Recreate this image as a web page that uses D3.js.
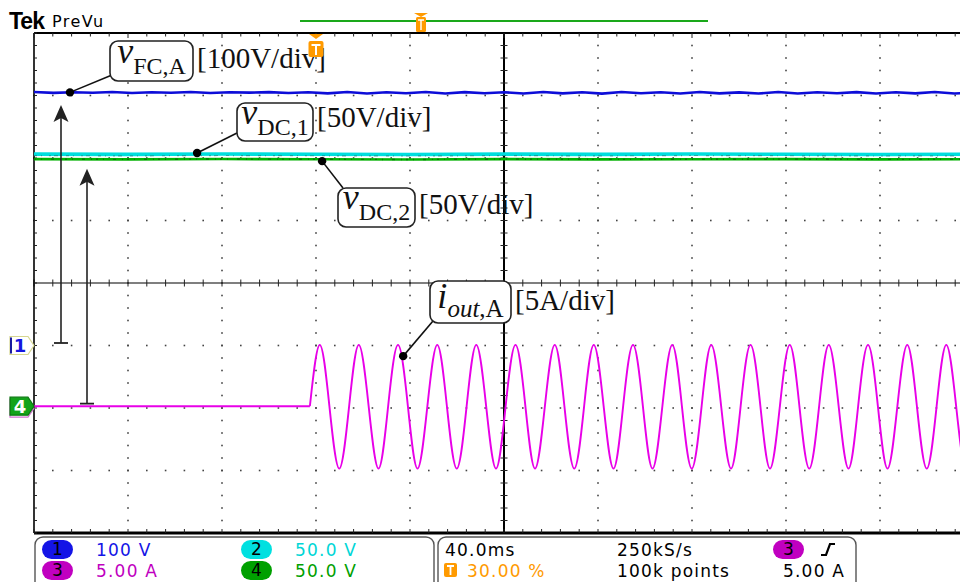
<!DOCTYPE html>
<html><head><meta charset="utf-8">
<script src="https://cdn.jsdelivr.net/npm/d3@7"></script>
<style>
html,body{margin:0;padding:0;background:#fff;}
svg{display:block;}
</style></head><body>
<svg id="chart" width="960" height="582"></svg>
<script>
// ---------- acquisition settings ----------
const timeDomain = [-120, 280];          // ms, 40 ms/div, trigger at 30 %
const divDomain = [-4, 4];               // vertical divisions
const timeTicks = [-120, -80, -40, 0, 40, 80, 120, 160, 200, 240, 280];
const divTicks = [-4, -3, -2, -1, 0, 1, 2, 3, 4];

// channel order: 1 = vFC,A, 2 = vDC,1, 3 = iout,A, 4 = vDC,2
const channelIds = ['1', '2', '3', '4'];
const channelPerDiv = [100, 50, 5, 50];
const channelGround = [-1.0, -1.97, -1.97, -1.97];
const channelColors = ['#0d0dd8', '#00dede', '#e800e8', '#00b000'];

// ---------- waveforms ----------
const vFcTimes = [-120, -111.7, -103.3, -95, -86.7, -78.3, -70, -61.7, -53.3, -45,
  -36.7, -28.3, -20, -11.7, -3.3, 5, 13.3, 21.7, 30, 38.3,
  46.7, 55, 63.3, 71.7, 80, 88.3, 96.7, 105, 113.3, 121.7,
  130, 138.3, 146.7, 155, 163.3, 171.7, 180, 188.3, 196.7, 205,
  213.3, 221.7, 230, 238.3, 246.7, 255, 263.3, 271.7, 280];
const vFcValues = [405.5, 404.2, 405.2, 404.4, 405.6, 404.0, 405.3, 404.5, 405.5, 404.1,
  405.2, 404.6, 405.4, 404.0, 405.1, 403.4, 405.6, 403.2, 405.3, 403.6,
  405.5, 403.1, 405.4, 403.5, 405.2, 403.2, 405.6, 403.4, 405.1, 403.0,
  405.5, 403.5, 405.2, 403.1, 405.6, 403.4, 405.0, 403.2, 405.5, 403.3,
  405.2, 403.6, 405.4, 403.1, 405.3, 403.4, 405.5, 403.2, 405.0];

const vDcTimes = [-120, -80, -40, 0, 40, 80, 120, 160, 200, 240, 280];
const vDc1Values = [201.6, 201.4, 201.7, 201.5, 201.3, 201.6, 201.4, 201.7, 201.5, 201.3, 201.5];
const vDc2Values = [197.6, 197.4, 197.7, 197.5, 197.3, 197.6, 197.4, 197.5, 197.6, 197.4, 197.5];

const iOutTimes = [-120, -2.6, 1.6, 5.7, 9.9, 14.1, 18.2, 22.4, 26.6, 30.7, 34.9,
  39.1, 43.2, 47.4, 51.6, 55.7, 59.9, 64.1, 68.2, 72.4, 76.6, 80.7, 84.9,
  89.1, 93.2, 97.4, 101.6, 105.7, 109.9, 114.1, 118.2, 122.4, 126.6, 130.7, 134.9,
  139.1, 143.2, 147.4, 151.6, 155.7, 159.9, 164.1, 168.2, 172.4, 176.6, 180.7, 184.9,
  189.1, 193.2, 197.4, 201.6, 205.7, 209.9, 214.1, 218.2, 222.4, 226.6, 230.7, 234.9,
  239.1, 243.2, 247.4, 251.6, 255.7, 259.9, 264.1, 268.2, 272.4, 276.6, 280.7];
const iOutValues = [0,
  0, 4.9, 0, -5.0, 0, 4.9, 0, -5.0, 0, 4.9, 0, -5.0, 0, 4.9, 0, -5.0,
  0, 4.9, 0, -5.0, 0, 4.9, 0, -5.0, 0, 4.9, 0, -5.0, 0, 4.9, 0, -5.0,
  0, 4.9, 0, -5.0, 0, 4.9, 0, -5.0, 0, 4.9, 0, -5.0, 0, 4.9, 0, -5.0,
  0, 4.9, 0, -5.0, 0, 4.9, 0, -5.0, 0, 4.9, 0, -5.0, 0, 4.9, 0, -5.0,
  0, 4.9, 0, -5.0, 0];

// ---------- annotations ----------
const labelMain = ['v', 'v', 'v', 'i'];
const labelSub = ['FC,A', 'DC,1', 'DC,2', 'out'];
const labelSubTail = ['', '', '', ',A'];
const labelScale = ['[100V/div]', '[50V/div]', '[50V/div]', '[5A/div]'];
const labelChannel = [0, 1, 3, 2];
const labelAnchorTimes = [-104.7, -50.6, 2.6, 37.1];
const labelAnchorValues = [405, 202.5, 196, 4.0];

// arrows: channel, value at the tip
const arrowChannel = [0, 1];
const arrowTipValues = [385, 190];

// ---------- status bar text ----------
const scaleTexts = ['100 V', '50.0 V', '5.00 A', '50.0 V'];
const timeBase = '40.0ms';
const sampleRate = '250kS/s';
const recordLength = '100k points';
const triggerPos = '30.00 %';
const triggerLevel = '5.00 A';

// ================= drawing =================
const svg = d3.select('#chart');
const X0 = 34, X1 = 974, Y0 = 33, Y1 = 533;
const x = d3.scaleLinear().domain(timeDomain).range([X0, X1]);
const yDiv = d3.scaleLinear().domain(divDomain).range([Y1, Y0]);
const yCh = (c, v) => yDiv(channelGround[c] + v / channelPerDiv[c]);

svg.append('rect').attr('width', 960).attr('height', 582).attr('fill', '#fff');

svg.append('defs').append('clipPath').attr('id', 'plotClip')
  .append('rect').attr('x', X0).attr('y', Y0).attr('width', X1 - X0).attr('height', Y1 - Y0);

const grid = svg.append('g');
const subDivs = d3.range(divDomain[0], divDomain[1] + 0.001, 0.2);
const subTimes = d3.range(timeDomain[0], timeDomain[1] + 0.001, 8);
const centerT = 80, centerD = 0;

// dotted division lines
timeTicks.filter(t => t !== timeDomain[0] && t !== timeDomain[1] && t !== centerT).forEach(t => {
  grid.selectAll(null).data(subDivs).enter().append('rect')
    .attr('x', x(t) - 0.8).attr('y', d => yDiv(d) - 0.8)
    .attr('width', 1.6).attr('height', 1.6).attr('fill', '#444');
});
divTicks.filter(d => d !== divDomain[0] && d !== divDomain[1] && d !== centerD).forEach(d => {
  grid.selectAll(null).data(subTimes).enter().append('rect')
    .attr('x', t => x(t) - 0.8).attr('y', yDiv(d) - 0.8)
    .attr('width', 1.6).attr('height', 1.6).attr('fill', '#444');
});

// center cross with minor ticks
grid.append('line').attr('x1', x(centerT)).attr('x2', x(centerT)).attr('y1', Y0).attr('y2', Y1)
  .attr('stroke', '#000').attr('stroke-width', 2);
grid.append('line').attr('x1', X0).attr('x2', X1).attr('y1', yDiv(centerD)).attr('y2', yDiv(centerD))
  .attr('stroke', '#000').attr('stroke-width', 1.2);
grid.selectAll(null).data(subDivs).enter().append('line')
  .attr('x1', x(centerT) - 3.5).attr('x2', x(centerT) + 3.5)
  .attr('y1', d => yDiv(d)).attr('y2', d => yDiv(d))
  .attr('stroke', '#222').attr('stroke-width', 1);
grid.selectAll(null).data(subTimes).enter().append('line')
  .attr('x1', t => x(t)).attr('x2', t => x(t))
  .attr('y1', yDiv(centerD) - 3.5).attr('y2', yDiv(centerD) + 3.5)
  .attr('stroke', '#222').attr('stroke-width', 1);

// border with ticks
grid.append('line').attr('x1', X0).attr('x2', 960).attr('y1', Y0).attr('y2', Y0)
  .attr('stroke', '#000').attr('stroke-width', 2);
grid.append('line').attr('x1', X0).attr('x2', 960).attr('y1', Y1).attr('y2', Y1)
  .attr('stroke', '#000').attr('stroke-width', 3);
grid.append('line').attr('x1', X0).attr('x2', X0).attr('y1', Y0).attr('y2', Y1)
  .attr('stroke', '#000').attr('stroke-width', 1.6);
grid.selectAll(null).data(subTimes).enter().append('line')
  .attr('x1', t => x(t)).attr('x2', t => x(t))
  .attr('y1', Y0).attr('y2', (t) => Y0 + (timeTicks.includes(t) ? 5 : 3.5))
  .attr('stroke', '#222').attr('stroke-width', 1);
grid.selectAll(null).data(subTimes).enter().append('line')
  .attr('x1', t => x(t)).attr('x2', t => x(t))
  .attr('y1', Y1).attr('y2', Y1 - 4)
  .attr('stroke', '#222').attr('stroke-width', 1);
grid.selectAll(null).data(subDivs).enter().append('line')
  .attr('x1', X0).attr('x2', X0 + 3)
  .attr('y1', d => yDiv(d)).attr('y2', d => yDiv(d))
  .attr('stroke', '#222').attr('stroke-width', 1);

// ---------- traces ----------
const traces = svg.append('g').attr('clip-path', 'url(#plotClip)');
const lineFor = (c, curve) => d3.line()
  .x(d => x(d[0])).y(d => yCh(c, d[1])).curve(curve);

const vDc2Pts = d3.zip(vDcTimes, vDc2Values);
const vDc1Pts = d3.zip(vDcTimes, vDc1Values);
traces.append('path').attr('d', lineFor(3, d3.curveLinear)(vDc2Pts))
  .attr('fill', 'none').attr('stroke', channelColors[3]).attr('stroke-width', 2.6);
traces.append('path').attr('d', lineFor(3, d3.curveLinear)(vDc2Pts))
  .attr('fill', 'none').attr('stroke', '#0a5a0a').attr('stroke-width', 1.4)
  .attr('stroke-dasharray', '2,5,1,9,3,6,1,4').attr('opacity', 0.7);
traces.append('path').attr('d', lineFor(1, d3.curveLinear)(vDc1Pts))
  .attr('fill', 'none').attr('stroke', channelColors[1]).attr('stroke-width', 3.6);
traces.append('path').attr('d', lineFor(1, d3.curveLinear)(vDc1Pts))
  .attr('fill', 'none').attr('stroke', '#1f6f70').attr('stroke-width', 1.2)
  .attr('stroke-dasharray', '3,4,1,7,2,3,4,8').attr('opacity', 0.55)
  .attr('transform', 'translate(0,1.5)');

traces.append('path').attr('d', lineFor(0, d3.curveLinear)(d3.zip(vFcTimes, vFcValues)))
  .attr('fill', 'none').attr('stroke', channelColors[0]).attr('stroke-width', 2.6)
  .attr('stroke-linejoin', 'round');

const iPts = d3.zip(iOutTimes, iOutValues);
traces.append('path').attr('d', lineFor(2, d3.curveLinear)(iPts.slice(0, 2)))
  .attr('fill', 'none').attr('stroke', channelColors[2]).attr('stroke-width', 2);
traces.append('path').attr('d', lineFor(2, d3.curveNatural)(iPts.slice(1)))
  .attr('fill', 'none').attr('stroke', channelColors[2]).attr('stroke-width', 1.9);

// ---------- arrows from channel ground to level ----------
const arrowX = [61, 87];
const arrows = svg.append('g').attr('stroke', '#222').attr('fill', '#222');
arrowChannel.forEach((c, i) => {
  const ax = arrowX[i];
  const yBase = yCh(c, 0) - 2.5;
  const yTip = yCh(c, arrowTipValues[i]);
  arrows.append('line').attr('x1', ax).attr('x2', ax).attr('y1', yBase).attr('y2', yTip + 12)
    .attr('stroke-width', 1.6);
  arrows.append('line').attr('x1', ax - 7).attr('x2', ax + 7).attr('y1', yBase).attr('y2', yBase)
    .attr('stroke-width', 1.8);
  arrows.append('path')
    .attr('d', `M${ax},${yTip} L${ax - 7.5},${yTip + 17} L${ax},${yTip + 13} L${ax + 7.5},${yTip + 17} Z`)
    .attr('stroke', 'none');
});

// ---------- annotation boxes ----------
const boxX = [110, 237, 338, 430];
const boxY = [41, 103, 188, 281];
const boxW = [83, 76, 77, 81];
const boxH = [40, 38, 39, 42];
const attachX = [112, 237, 343, 433];
const attachY = [75, 133, 188, 321];
const mainDy = [22, 21, 21, 27];
const scaleDy = [27, 24, 26, 29];

const ann = svg.append('g');
labelMain.forEach((m, i) => {
  const c = labelChannel[i];
  const dx = x(labelAnchorTimes[i]);
  const dy = yCh(c, labelAnchorValues[i]);
  ann.append('line').attr('x1', dx).attr('y1', dy).attr('x2', attachX[i]).attr('y2', attachY[i])
    .attr('stroke', '#111').attr('stroke-width', 1.6);
  ann.append('circle').attr('cx', dx).attr('cy', dy).attr('r', 4.2).attr('fill', '#000');
  ann.append('rect').attr('x', boxX[i]).attr('y', boxY[i]).attr('width', boxW[i]).attr('height', boxH[i])
    .attr('rx', 8).attr('fill', '#fff').attr('stroke', '#222').attr('stroke-width', 1.6);
  const t = ann.append('text')
    .attr('x', boxX[i] + boxW[i] / 2).attr('y', boxY[i] + mainDy[i])
    .attr('text-anchor', 'middle').attr('font-family', 'Liberation Serif, serif').attr('fill', '#111');
  t.append('tspan').attr('font-style', 'italic').attr('font-size', 36).text(m);
  const isCurrent = labelSubTail[i] !== '';
  t.append('tspan').attr('font-size', isCurrent ? 25 : 24).attr('dy', isCurrent ? 9 : 11)
    .attr('font-style', isCurrent ? 'italic' : 'normal').text(labelSub[i]);
  if (isCurrent) t.append('tspan').attr('font-size', 25).text(labelSubTail[i]);
  ann.append('text').attr('x', boxX[i] + boxW[i] + 4).attr('y', boxY[i] + scaleDy[i])
    .attr('font-family', 'Liberation Serif, serif').attr('font-size', 29).attr('fill', '#111')
    .text(labelScale[i]);
});

// ---------- channel ground markers ----------
const mk = svg.append('g');
function groundMarker(y, fill, stroke, txtColor, label, edge) {
  const pts = [[10, y - 9], [28, y - 9], [34, y], [28, y + 9], [10, y + 9]];
  mk.append('polygon').attr('points', pts.map(p => p.join(',')).join(' '))
    .attr('fill', fill).attr('stroke', stroke).attr('stroke-width', 1.2);
  if (edge) mk.append('line').attr('x1', 11).attr('x2', 11).attr('y1', y - 8).attr('y2', y + 8)
    .attr('stroke', edge).attr('stroke-width', 2);
  mk.append('text').attr('x', 20).attr('y', y + 6.5).attr('text-anchor', 'middle')
    .attr('font-family', 'DejaVu Sans, sans-serif').attr('font-weight', 'bold').attr('font-size', 18)
    .attr('fill', txtColor).text(label);
}
const g3 = yCh(2, 0);
mk.append('polygon')
  .attr('points', [[10, g3 - 7], [28, g3 - 7], [34, g3 + 2], [28, g3 + 11], [10, g3 + 11]].map(p => p.join(',')).join(' '))
  .attr('fill', '#fff').attr('stroke', '#d070d0').attr('stroke-width', 1.2);
groundMarker(yCh(0, 0), '#fff', '#d6d690', '#1515e0', channelIds[0], '#1a1aa0');
groundMarker(yCh(3, 0), '#13a31a', '#0b7a10', '#fff', channelIds[3], null);

// ---------- header ----------
svg.append('text').attr('x', 9).attr('y', 29)
  .attr('font-family', 'Liberation Sans, Arial, sans-serif').attr('font-weight', 'bold')
  .attr('font-size', 23).attr('letter-spacing', -1).attr('fill', '#000').text('Tek');
svg.append('text').attr('x', 52).attr('y', 27)
  .attr('font-family', 'DejaVu Sans, sans-serif').attr('font-size', 16)
  .attr('letter-spacing', 1.4).attr('fill', '#000').text('PreVu');

// record view bar and trigger position marks
svg.append('line').attr('x1', 300).attr('x2', 708).attr('y1', 21).attr('y2', 21)
  .attr('stroke', '#1aa81a').attr('stroke-width', 2);
const orange = '#ff9a00';
svg.append('path').attr('d', 'M414,13 L428,13 L421,17 Z').attr('fill', orange);
svg.append('rect').attr('x', 416).attr('y', 17).attr('width', 10).attr('height', 15).attr('rx', 1.5).attr('fill', orange);
svg.append('path').attr('d', 'M418,20 H424 M421,20 V30').attr('stroke', '#fff').attr('stroke-width', 1.4);

const trigX = x(0);
svg.append('path').attr('d', `M${trigX - 7},34 L${trigX + 7},34 L${trigX},39 Z`).attr('fill', orange);
svg.append('rect').attr('x', trigX - 7.5).attr('y', 41).attr('width', 15).attr('height', 16).attr('rx', 2).attr('fill', orange);
svg.append('path').attr('d', `M${trigX - 4.5},45 H${trigX + 4.5} M${trigX},45 V55`)
  .attr('stroke', '#fff').attr('stroke-width', 2);

// ---------- status bar ----------
const sb = svg.append('g').attr('font-family', 'DejaVu Sans, sans-serif').attr('font-size', 17)
  .attr('letter-spacing', 1.2);
sb.append('rect').attr('x', 35).attr('y', 537).attr('width', 399).attr('height', 56).attr('rx', 8)
  .attr('fill', '#fff').attr('stroke', '#555').attr('stroke-width', 1.4);
sb.append('rect').attr('x', 438).attr('y', 537).attr('width', 418).attr('height', 56).attr('rx', 8)
  .attr('fill', '#fff').attr('stroke', '#555').attr('stroke-width', 1.4);

const ovalX = [42, 241, 42, 241];
const ovalY = [540, 540, 561, 561];
const textX = [96, 295, 96, 295];
const textY = [556, 556, 577, 577];
const ovalFill = ['#1414e6', '#00e0e0', '#c000c0', '#00a000'];
const textFill = ['#1414e6', '#00d6d6', '#c000c0', '#00a000'];
channelIds.forEach((id, i) => {
  sb.append('rect').attr('x', ovalX[i]).attr('y', ovalY[i]).attr('width', 31).attr('height', 19)
    .attr('rx', 9.5).attr('fill', ovalFill[i]);
  sb.append('text').attr('x', ovalX[i] + 15.5).attr('y', textY[i] - 1).attr('text-anchor', 'middle')
    .attr('letter-spacing', 0).attr('fill', '#000').text(id);
  sb.append('text').attr('x', textX[i]).attr('y', textY[i]).attr('fill', textFill[i]).text(scaleTexts[i]);
});

sb.append('text').attr('x', 445).attr('y', 556).attr('fill', '#000').text(timeBase);
sb.append('text').attr('x', 617).attr('y', 556).attr('fill', '#000').text(sampleRate);
sb.append('text').attr('x', 617).attr('y', 577).attr('fill', '#000').text(recordLength);
sb.append('rect').attr('x', 773).attr('y', 540).attr('width', 31).attr('height', 19)
  .attr('rx', 9.5).attr('fill', '#c000c0');
sb.append('text').attr('x', 788.5).attr('y', 555).attr('text-anchor', 'middle')
  .attr('letter-spacing', 0).attr('fill', '#000').text(channelIds[2]);
sb.append('path').attr('d', 'M821,555 H826 L830,544 H835').attr('fill', 'none')
  .attr('stroke', '#000').attr('stroke-width', 2.2);
sb.append('text').attr('x', 783).attr('y', 577).attr('fill', '#000').text(triggerLevel);
sb.append('rect').attr('x', 444).attr('y', 563).attr('width', 13).attr('height', 14).attr('rx', 2).attr('fill', orange);
sb.append('path').attr('d', 'M447,566 H454 M450.5,566 V575').attr('stroke', '#fff').attr('stroke-width', 1.8);
sb.append('text').attr('x', 467).attr('y', 577).attr('fill', orange).text(triggerPos);
</script>
</body></html>
